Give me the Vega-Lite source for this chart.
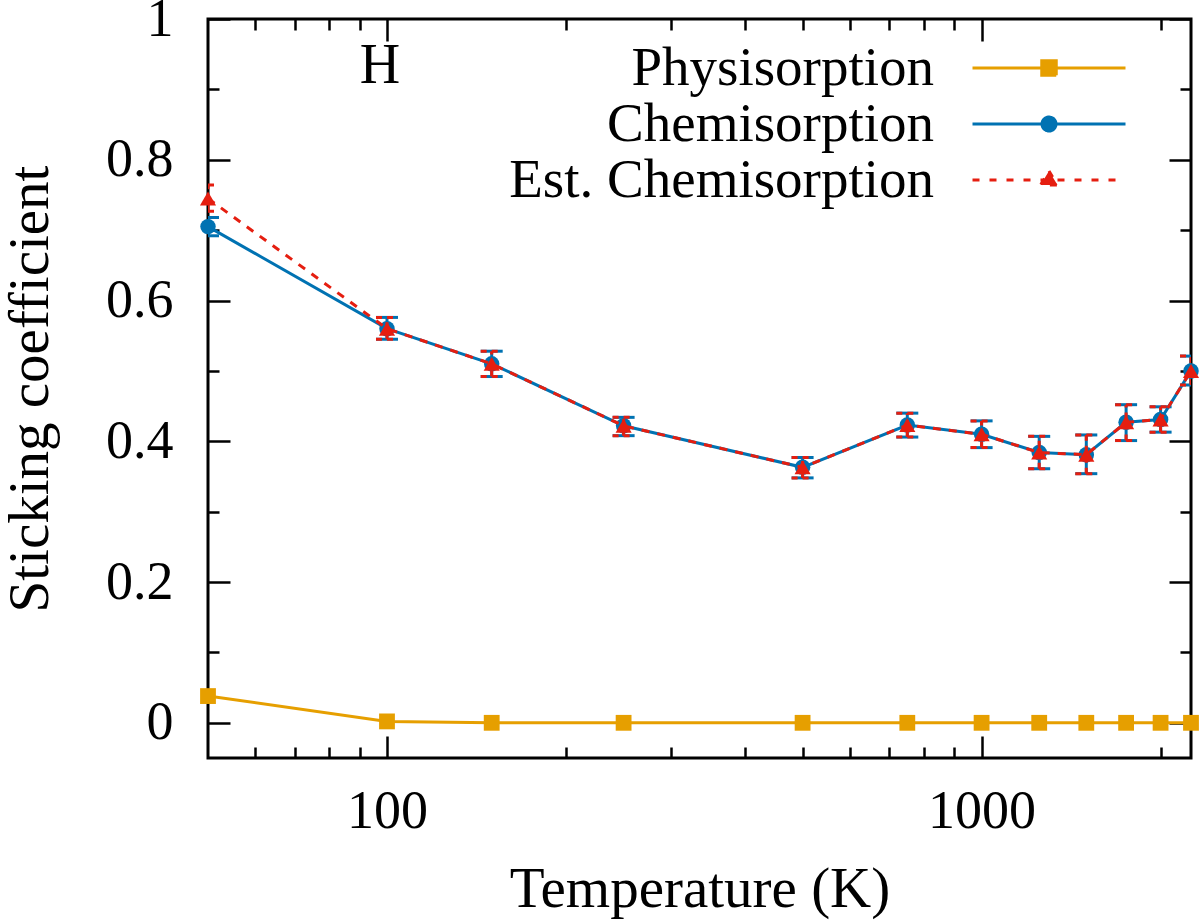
{
  "$schema": "https://vega.github.io/schema/vega-lite/v6.json",
  "description": "Sticking coefficient of H versus temperature",
  "width": 983,
  "height": 739,
  "autosize": {"type": "none"},
  "padding": {"left": 208, "top": 19, "right": 9, "bottom": 165},
  "background": "white",
  "config": {
    "font": "Liberation Serif",
    "view": {"stroke": "black", "strokeWidth": 3},
    "axis": {
      "domain": false,
      "grid": false,
      "tickColor": "black",
      "tickWidth": 2.5,
      "labelFont": "Liberation Serif",
      "labelFontSize": 54,
      "labelColor": "black",
      "labelFlush": false,
      "labelOverlap": false,
      "titleFont": "Liberation Serif",
      "titleFontSize": 57,
      "titleFontWeight": "normal",
      "titleColor": "black"
    }
  },
  "data": {
    "values": [
      {"series": "Physisorption", "T": 50, "v": 0.038},
      {"series": "Physisorption", "T": 100, "v": 0.002},
      {"series": "Physisorption", "T": 150, "v": 0},
      {"series": "Physisorption", "T": 250, "v": 0},
      {"series": "Physisorption", "T": 500, "v": 0},
      {"series": "Physisorption", "T": 750, "v": 0},
      {"series": "Physisorption", "T": 1000, "v": 0},
      {"series": "Physisorption", "T": 1250, "v": 0},
      {"series": "Physisorption", "T": 1500, "v": 0},
      {"series": "Physisorption", "T": 1750, "v": 0},
      {"series": "Physisorption", "T": 2000, "v": 0},
      {"series": "Physisorption", "T": 2250, "v": 0},
      {"series": "Chemisorption", "T": 50, "v": 0.705, "lo": 0.692, "hi": 0.718},
      {"series": "Chemisorption", "T": 100, "v": 0.560, "lo": 0.545, "hi": 0.576},
      {"series": "Chemisorption", "T": 150, "v": 0.510, "lo": 0.492, "hi": 0.528},
      {"series": "Chemisorption", "T": 250, "v": 0.422, "lo": 0.408, "hi": 0.434},
      {"series": "Chemisorption", "T": 500, "v": 0.363, "lo": 0.348, "hi": 0.377},
      {"series": "Chemisorption", "T": 750, "v": 0.423, "lo": 0.406, "hi": 0.440},
      {"series": "Chemisorption", "T": 1000, "v": 0.410, "lo": 0.391, "hi": 0.429},
      {"series": "Chemisorption", "T": 1250, "v": 0.384, "lo": 0.361, "hi": 0.407},
      {"series": "Chemisorption", "T": 1500, "v": 0.381, "lo": 0.354, "hi": 0.409},
      {"series": "Chemisorption", "T": 1750, "v": 0.427, "lo": 0.401, "hi": 0.452},
      {"series": "Chemisorption", "T": 2000, "v": 0.431, "lo": 0.413, "hi": 0.449},
      {"series": "Chemisorption", "T": 2250, "v": 0.500, "lo": 0.480, "hi": 0.521},
      {"series": "Est. Chemisorption", "T": 50, "v": 0.745, "lo": 0.727, "hi": 0.764},
      {"series": "Est. Chemisorption", "T": 100, "v": 0.560, "lo": 0.545, "hi": 0.576},
      {"series": "Est. Chemisorption", "T": 150, "v": 0.510, "lo": 0.492, "hi": 0.528},
      {"series": "Est. Chemisorption", "T": 250, "v": 0.422, "lo": 0.408, "hi": 0.434},
      {"series": "Est. Chemisorption", "T": 500, "v": 0.363, "lo": 0.348, "hi": 0.377},
      {"series": "Est. Chemisorption", "T": 750, "v": 0.423, "lo": 0.406, "hi": 0.440},
      {"series": "Est. Chemisorption", "T": 1000, "v": 0.410, "lo": 0.391, "hi": 0.429},
      {"series": "Est. Chemisorption", "T": 1250, "v": 0.384, "lo": 0.361, "hi": 0.407},
      {"series": "Est. Chemisorption", "T": 1500, "v": 0.381, "lo": 0.354, "hi": 0.409},
      {"series": "Est. Chemisorption", "T": 1750, "v": 0.427, "lo": 0.401, "hi": 0.452},
      {"series": "Est. Chemisorption", "T": 2000, "v": 0.431, "lo": 0.413, "hi": 0.449},
      {"series": "Est. Chemisorption", "T": 2250, "v": 0.500, "lo": 0.480, "hi": 0.521}
    ]
  },
  "resolve": {"axis": {"x": "independent", "y": "independent"}},
  "layer": [
    {
      "transform": [{"filter": "datum.series === 'Physisorption'"}],
      "mark": {"type": "line", "strokeWidth": 3},
      "encoding": {
        "x": {
          "field": "T",
          "type": "quantitative",
          "scale": {"type": "log", "domain": [50, 2250], "nice": false},
          "axis": {
            "orient": "bottom",
            "values": [100, 1000],
            "format": "d",
            "tickSize": -22,
            "labelPadding": 48,
            "title": "Temperature (K)",
            "titlePadding": 23
          }
        },
        "y": {
          "field": "v",
          "type": "quantitative",
          "scale": {"domain": [-0.05, 1], "nice": false, "zero": false},
          "axis": {
            "orient": "left",
            "values": [0, 0.2, 0.4, 0.6, 0.8, 1],
            "format": "~g",
            "tickSize": -22,
            "labelPadding": 57,
            "title": "Sticking coefficient",
            "titlePadding": 46
          }
        },
        "color": {
          "field": "series",
          "type": "nominal",
          "scale": {
            "domain": ["Physisorption", "Chemisorption", "Est. Chemisorption"],
            "range": ["#E69F00", "#0072B2", "#E51E10"]
          },
          "legend": {
            "orient": "none",
            "legendX": 813.5,
            "legendY": 21.5,
            "title": null,
            "direction": "vertical",
            "padding": 0,
            "rowPadding": 0,
            "labelFont": "Liberation Serif",
            "labelFontSize": 55,
            "labelColor": "black",
            "labelAlign": "right",
            "labelOffset": -142.5,
            "labelLimit": 2000,
            "symbolSize": 2500,
            "symbolStrokeWidth": 3,
            "symbolOpacity": 1,
            "symbolType": {"expr": "datum.value === 'Physisorption' ? 'M-3.06,0H3.06M-0.29,-0.29H0.29V0.29H-0.29Z' : datum.value === 'Chemisorption' ? 'M-3.06,0H3.06M0.28,0A0.28,0.28,0,1,1,-0.28,0A0.28,0.28,0,1,1,0.28,0Z' : 'M-3.06,0H3.06M0,-0.36L0.34,0.2L-0.34,0.2Z'"},
            "symbolFillColor": {"expr": "scale('color', datum.value)"},
            "symbolStrokeColor": {"expr": "scale('color', datum.value)"},
            "symbolDash": {"expr": "datum.value === 'Est. Chemisorption' ? [7, 10] : [1, 0]"}
          }
        }
      }
    },
    {
      "transform": [{"filter": "datum.series === 'Physisorption'"}],
      "mark": {"type": "point", "shape": "square", "filled": true, "size": 250, "opacity": 1, "strokeWidth": 0, "color": "#E69F00"},
      "encoding": {
        "x": {"field": "T", "type": "quantitative", "axis": null},
        "y": {"field": "v", "type": "quantitative", "axis": null}
      }
    },
    {
      "transform": [{"filter": "datum.series === 'Chemisorption'"}],
      "mark": {"type": "rule", "color": "#0072B2", "strokeWidth": 3, "clip": true},
      "encoding": {
        "x": {
          "field": "T",
          "type": "quantitative",
          "axis": {
            "orient": "bottom",
            "values": [60, 70, 80, 90, 200, 300, 400, 500, 600, 700, 800, 900, 2000],
            "tickSize": -11,
            "labels": false,
            "title": null
          }
        },
        "y": {
          "field": "lo",
          "type": "quantitative",
          "axis": {
            "orient": "left",
            "values": [0.1, 0.3, 0.5, 0.7, 0.9],
            "tickSize": -11,
            "labels": false,
            "title": null
          }
        },
        "y2": {"field": "hi"}
      }
    },
    {
      "transform": [
        {"filter": "datum.series === 'Chemisorption'"},
        {"fold": ["lo", "hi"], "as": ["end", "cap"]}
      ],
      "mark": {"type": "point", "shape": "M-1,0H1", "size": 484, "filled": false, "color": "#0072B2", "strokeWidth": 3, "opacity": 1, "clip": true},
      "encoding": {
        "x": {"field": "T", "type": "quantitative", "axis": null},
        "y": {"field": "cap", "type": "quantitative", "axis": null}
      }
    },
    {
      "transform": [{"filter": "datum.series === 'Chemisorption'"}],
      "mark": {"type": "line", "color": "#0072B2", "strokeWidth": 3},
      "encoding": {
        "x": {
          "field": "T",
          "type": "quantitative",
          "axis": {"orient": "top", "values": [100, 1000], "tickSize": -22, "labels": false, "title": null}
        },
        "y": {
          "field": "v",
          "type": "quantitative",
          "axis": {"orient": "right", "values": [0, 0.2, 0.4, 0.6, 0.8, 1], "tickSize": -22, "labels": false, "title": null}
        }
      }
    },
    {
      "transform": [{"filter": "datum.series === 'Chemisorption'"}],
      "mark": {"type": "point", "shape": "circle", "filled": true, "size": 240, "opacity": 1, "strokeWidth": 0, "color": "#0072B2"},
      "encoding": {
        "x": {"field": "T", "type": "quantitative", "axis": null},
        "y": {"field": "v", "type": "quantitative", "axis": null}
      }
    },
    {
      "transform": [{"filter": "datum.series === 'Est. Chemisorption'"}],
      "mark": {"type": "rule", "color": "#E51E10", "strokeWidth": 3, "strokeDash": [6, 5], "clip": true},
      "encoding": {
        "x": {
          "field": "T",
          "type": "quantitative",
          "axis": {
            "orient": "top",
            "values": [60, 70, 80, 90, 200, 300, 400, 500, 600, 700, 800, 900, 2000],
            "tickSize": -11,
            "labels": false,
            "title": null
          }
        },
        "y": {
          "field": "lo",
          "type": "quantitative",
          "axis": {
            "orient": "right",
            "values": [0.1, 0.3, 0.5, 0.7, 0.9],
            "tickSize": -11,
            "labels": false,
            "title": null
          }
        },
        "y2": {"field": "hi"}
      }
    },
    {
      "transform": [
        {"filter": "datum.series === 'Est. Chemisorption'"},
        {"fold": ["lo", "hi"], "as": ["end", "cap"]}
      ],
      "mark": {"type": "point", "shape": "M-1,0H1", "size": 484, "filled": false, "color": "#E51E10", "strokeWidth": 3, "strokeDash": [6, 5], "opacity": 1, "clip": true},
      "encoding": {
        "x": {"field": "T", "type": "quantitative", "axis": null},
        "y": {"field": "cap", "type": "quantitative", "axis": null}
      }
    },
    {
      "transform": [{"filter": "datum.series === 'Est. Chemisorption'"}],
      "mark": {"type": "line", "color": "#E51E10", "strokeWidth": 3, "strokeDash": [8, 8]},
      "encoding": {
        "x": {"field": "T", "type": "quantitative", "axis": null},
        "y": {"field": "v", "type": "quantitative", "axis": null}
      }
    },
    {
      "transform": [{"filter": "datum.series === 'Est. Chemisorption'"}],
      "mark": {"type": "point", "shape": "triangle-up", "filled": true, "size": 260, "opacity": 1, "strokeWidth": 0, "color": "#E51E10"},
      "encoding": {
        "x": {"field": "T", "type": "quantitative", "axis": null},
        "y": {"field": "v", "type": "quantitative", "axis": null}
      }
    },
    {
      "data": {"values": [{"label": "H"}]},
      "mark": {"type": "text", "font": "Liberation Serif", "fontSize": 56, "align": "center", "baseline": "alphabetic", "color": "black"},
      "encoding": {
        "x": {"datum": 97.3, "type": "quantitative", "axis": null},
        "y": {"datum": 0.909, "type": "quantitative", "axis": null},
        "text": {"field": "label"}
      }
    }
  ]
}
